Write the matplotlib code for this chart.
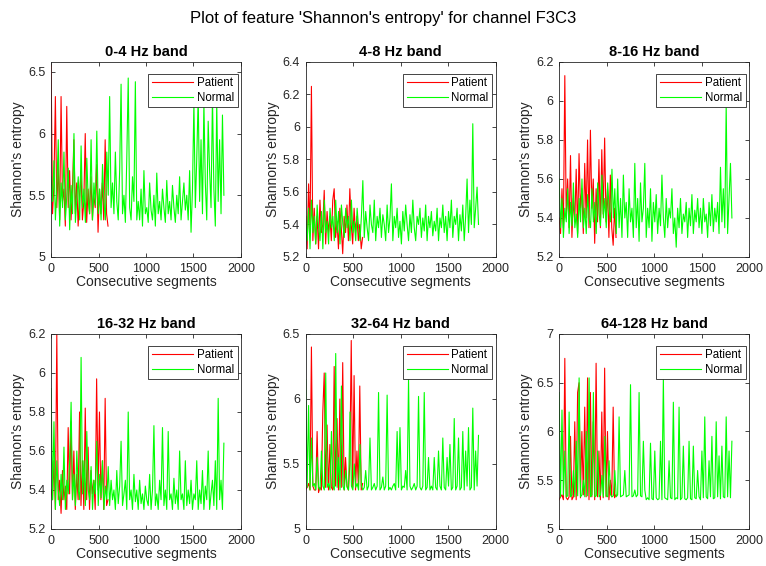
import numpy as np
import matplotlib
matplotlib.use('Agg')
import matplotlib.pyplot as plt
from matplotlib.ticker import FuncFormatter

plt.rcParams['font.family'] = ['Liberation Sans', 'DejaVu Sans']

# Shannon's entropy per consecutive segment, channel F3C3
bands = ['0-4 Hz band', '4-8 Hz band', '8-16 Hz band',
         '16-32 Hz band', '32-64 Hz band', '64-128 Hz band']
n_patient = 600
n_normal = 1820

patient_0_4 = [6.55, 5.35, 5.60, 6.30, 5.40, 5.75, 5.30, 6.30, 5.45, 5.55, 5.25, 6.22, 5.40, 5.70,
               5.30, 5.55, 5.95, 5.35, 5.60, 5.25, 5.50, 5.70, 5.30, 5.45, 6.00, 5.28, 5.55, 5.35,
               5.65, 5.30, 5.50, 5.40, 5.75, 5.20, 5.55, 5.35, 5.60, 5.30, 5.95, 5.35, 5.25]
normal_0_4 = [5.65, 5.45, 5.78, 5.30, 5.55, 5.95, 5.25, 5.60, 5.40, 5.85, 5.30, 5.50, 5.72, 5.22,
              5.58, 5.35, 6.00, 5.28, 5.48, 5.65, 5.30, 5.90, 5.40, 5.55, 5.28, 5.80, 5.45, 5.35,
              5.95, 5.30, 5.60, 5.42, 6.02, 5.35, 5.55, 5.30, 5.75, 5.45, 5.30, 5.85, 5.50,
              6.30, 5.40, 5.60, 5.35, 5.85, 5.45, 5.30, 5.70, 6.40, 5.35, 5.50, 5.28, 5.80, 6.45,
              5.40, 5.30, 5.65, 5.45, 6.42, 5.30,
              5.45, 5.30, 5.55, 5.25, 5.70, 5.35, 5.40, 5.28, 5.60, 5.38, 5.30, 5.50, 5.25, 5.68,
              5.35, 5.45, 5.30, 5.55, 5.40, 5.28, 5.62, 5.35, 5.45, 5.30, 5.58, 5.40, 5.28, 5.50,
              5.35, 5.65, 5.30, 5.45, 5.60, 5.38, 5.50, 5.30, 5.70,
              5.20, 5.55, 6.25, 5.40, 5.80, 6.30, 5.45, 5.95, 5.35, 6.25, 5.60, 5.30, 6.10, 5.70,
              5.40, 6.30, 5.55, 5.25, 6.25, 5.45, 5.95, 5.35, 6.15, 5.50]

patient_4_8 = [5.45, 5.25, 5.65, 5.35, 6.25, 5.30, 5.50, 5.28, 5.45, 5.25, 5.55, 5.35, 5.40, 5.61,
               5.28, 5.48, 5.35, 5.45, 5.30, 5.55, 5.62, 5.32, 5.42, 5.25, 5.50, 5.38, 5.22, 5.45,
               5.35, 5.52, 5.30, 5.62, 5.40, 5.28, 5.50, 5.35, 5.45, 5.30, 5.40, 5.25, 5.32]
normal_4_8 = [5.45, 5.30, 5.50, 5.25, 5.55, 5.35, 5.45, 5.28, 5.52, 5.38, 5.30, 5.48, 5.25, 5.55,
              5.35, 5.42, 5.28, 5.50, 5.38, 5.45, 5.30, 5.55, 5.35, 5.48, 5.28, 5.52, 5.40, 5.32,
              5.50, 5.38, 5.45, 5.30, 5.55, 5.35, 5.42, 5.30, 5.50, 5.38, 5.30, 5.45, 5.67,
              5.32, 5.48, 5.38, 5.30, 5.52, 5.40, 5.35, 5.55, 5.30, 5.45, 5.38, 5.50, 5.32, 5.46,
              5.40, 5.30, 5.52, 5.35, 5.44, 5.65,
              5.30, 5.45, 5.38, 5.50, 5.32, 5.42, 5.28, 5.48, 5.36, 5.52, 5.40, 5.30, 5.46, 5.35,
              5.55, 5.38, 5.30, 5.45, 5.40, 5.50, 5.32, 5.44, 5.36, 5.52, 5.30, 5.45, 5.38, 5.48,
              5.33, 5.42, 5.36, 5.50, 5.30, 5.44, 5.38, 5.52, 5.35,
              5.45, 5.30, 5.48, 5.38, 5.55, 5.32, 5.45, 5.40, 5.50, 5.30, 5.46, 5.36, 5.52, 5.30,
              5.45, 5.68, 5.35, 5.55, 5.40, 6.02, 5.38, 5.50, 5.63, 5.40]

patient_8_16 = [5.40, 5.32, 5.55, 5.35, 6.13, 5.40, 5.60, 5.35, 5.72, 5.30, 5.50, 5.38, 5.65, 5.32,
                5.73, 5.45, 5.55, 5.32, 5.68, 5.40, 5.80, 5.35, 5.85, 5.45, 5.60, 5.27, 5.55, 5.38,
                5.70, 5.35, 5.75, 5.42, 5.81, 5.38, 5.55, 5.30, 5.62, 5.35, 5.26, 5.45, 5.30]
normal_8_16 = [5.60, 5.35, 5.50, 5.30, 5.45, 5.38, 5.55, 5.32, 5.48, 5.36, 5.58, 5.35, 5.42, 5.30,
               5.50, 5.38, 5.60, 5.35, 5.45, 5.32, 5.52, 5.40, 5.35, 5.55, 5.38, 5.48, 5.32, 5.58,
               5.42, 5.36, 5.62, 5.40, 5.50, 5.35, 5.58, 5.45, 5.38, 5.65, 5.40, 5.55, 5.32,
               5.60, 5.35, 5.50, 5.30, 5.62, 5.40, 5.48, 5.30, 5.55, 5.38, 5.45, 5.30, 5.68, 5.35,
               5.50, 5.28, 5.58, 5.38, 5.45, 5.68,
               5.30, 5.45, 5.35, 5.55, 5.28, 5.48, 5.38, 5.52, 5.32, 5.45, 5.36, 5.62, 5.40, 5.30,
               5.50, 5.35, 5.45, 5.40, 5.55, 5.32, 5.40, 5.25, 5.45, 5.35, 5.50, 5.32, 5.42, 5.38,
               5.48, 5.30, 5.45, 5.36, 5.52, 5.32, 5.44, 5.38, 5.50,
               5.35, 5.45, 5.32, 5.50, 5.38, 5.42, 5.30, 5.48, 5.36, 5.52, 5.33, 5.45, 5.38, 5.48,
               5.32, 5.66, 5.38, 5.55, 5.35, 5.98, 5.32, 5.50, 5.68, 5.40]

patient_16_32 = [5.40, 5.35, 5.55, 5.30, 6.20, 5.35, 5.45, 5.28, 5.50, 5.35, 5.42, 5.30, 5.72, 5.38,
                 5.75, 5.35, 5.60, 5.30, 5.48, 5.35, 5.80, 5.32, 5.55, 5.30, 5.82, 5.35, 5.62, 5.30,
                 5.50, 5.38, 5.45, 5.30, 5.97, 5.40, 5.80, 5.35, 5.55, 5.30, 5.87, 5.32, 5.35]
normal_16_32 = [5.92, 5.35, 5.75, 5.30, 5.55, 5.40, 5.32, 5.48, 5.35, 5.62, 5.30, 5.45, 5.38, 5.55,
                5.85, 5.35, 5.48, 5.32, 5.60, 5.40, 5.35, 6.08, 5.38, 5.55, 5.32, 5.70, 5.40, 5.35,
                5.52, 5.30, 5.45, 5.38, 5.65, 5.32, 5.48, 5.36, 5.55, 5.30, 5.42, 5.35, 5.52,
                5.32, 5.45, 5.35, 5.40, 5.30, 5.50, 5.33, 5.42, 5.65, 5.32, 5.38, 5.45, 5.30, 5.80,
                5.35, 5.40, 5.30, 5.48, 5.34, 5.40,
                5.30, 5.45, 5.33, 5.38, 5.30, 5.42, 5.35, 5.32, 5.48, 5.30, 5.40, 5.73, 5.32, 5.38,
                5.30, 5.45, 5.35, 5.72, 5.32, 5.40, 5.30, 5.70, 5.35, 5.38, 5.30, 5.46, 5.33, 5.40,
                5.30, 5.60, 5.35, 5.38, 5.30, 5.55, 5.32, 5.40, 5.33,
                5.45, 5.30, 5.38, 5.35, 5.55, 5.30, 5.40, 5.33, 5.50, 5.30, 5.42, 5.35, 5.60, 5.30,
                5.38, 5.45, 5.32, 5.55, 5.30, 5.87, 5.35, 5.45, 5.30, 5.64]

patient_32_64 = [5.30, 5.32, 5.35, 5.30, 6.40, 5.33, 5.30, 5.30, 5.75, 5.28, 5.32, 5.30, 5.90, 6.20,
                 5.32, 5.80, 5.30, 5.65, 5.32, 5.30, 6.25, 5.33, 5.85, 5.30, 6.00, 5.32, 6.28, 5.30,
                 5.55, 5.33, 5.30, 5.50, 6.45, 5.32, 6.18, 5.30, 5.60, 5.33, 6.10, 5.30, 5.35]
normal_32_64 = [6.15, 5.32, 5.95, 5.30, 5.70, 5.33, 5.35, 5.30, 5.55, 5.32, 5.30, 5.60, 5.33, 5.30,
                6.20, 5.32, 5.35, 5.30, 5.75, 5.33, 5.30, 6.35, 5.32, 5.55, 5.30, 6.10, 5.33, 5.30,
                5.45, 5.32, 5.30, 5.90, 5.33, 5.30, 5.50, 5.32, 5.35, 5.30, 5.65, 5.33, 5.30,
                5.32, 5.45, 5.30, 5.33, 5.70, 5.30, 5.32, 5.35, 5.30, 5.33, 6.05, 5.30, 5.32, 5.40,
                5.30, 5.33, 6.03, 5.30, 5.32, 5.30,
                5.33, 5.35, 5.30, 5.75, 5.32, 5.78, 5.30, 5.33, 5.32, 5.45, 5.30, 6.15, 5.33, 5.30,
                5.32, 5.35, 5.30, 5.33, 6.02, 5.32, 5.30, 5.33, 6.05, 5.30, 5.32, 5.55, 5.30, 5.33,
                5.30, 5.55, 5.32, 5.30, 5.60, 5.33, 5.30, 5.70, 5.32,
                5.30, 5.55, 5.33, 5.65, 5.30, 5.32, 5.85, 5.30, 5.33, 5.70, 5.30, 5.32, 5.75, 5.30,
                5.60, 5.33, 5.78, 5.30, 5.32, 5.93, 5.30, 5.60, 5.33, 5.72]

patient_64_128 = [5.30, 5.33, 5.35, 5.30, 6.75, 5.32, 5.30, 5.33, 5.95, 5.30, 5.33, 6.10, 5.30, 6.40,
                  6.50, 5.32, 6.00, 5.35, 6.25, 5.33, 6.55, 5.30, 6.40, 5.33, 6.10, 5.30, 6.70, 5.33,
                  5.80, 5.30, 6.20, 5.32, 6.65, 5.33, 6.00, 5.30, 5.50, 5.33, 6.25, 5.32, 5.35]
normal_64_128 = [6.40, 5.33, 6.22, 5.35, 5.80, 5.33, 5.34, 6.20, 5.33, 5.35, 5.60, 5.33, 5.90, 5.34,
                 6.55, 5.33, 5.35, 5.50, 5.33, 6.00, 5.34, 6.55, 5.33, 5.35, 6.40, 5.33, 5.34, 5.80,
                 5.33, 5.35, 5.55, 5.33, 5.95, 5.34, 5.33, 5.70, 5.35, 5.33, 5.34, 5.60, 5.33,
                 5.35, 6.15, 5.33, 5.34, 5.35, 5.60, 5.33, 5.34, 5.35, 6.48, 5.33, 5.34, 5.40, 5.33,
                 5.35, 6.40, 5.34, 5.33, 5.90, 5.40,
                 5.30, 5.32, 5.30, 5.88, 5.31, 5.30, 5.80, 5.32, 5.30, 5.31, 5.90, 5.30, 6.55, 5.32,
                 5.31, 5.30, 5.70, 5.32, 5.31, 6.30, 5.30, 5.32, 5.31, 6.25, 5.30, 5.32, 5.85, 5.31,
                 5.30, 5.32, 5.90, 5.31, 5.30, 5.85, 5.32, 5.31, 5.60,
                 5.33, 5.30, 5.80, 5.32, 6.15, 5.33, 5.31, 5.70, 5.33, 5.95, 5.31, 5.32, 6.10, 5.33,
                 5.75, 5.31, 5.85, 5.33, 5.32, 6.15, 5.33, 5.80, 5.32, 5.90]

patient = [patient_0_4, patient_4_8, patient_8_16, patient_16_32, patient_32_64, patient_64_128]
normal = [normal_0_4, normal_4_8, normal_8_16, normal_16_32, normal_32_64, normal_64_128]
ylims = [(5, 6.58), (5.2, 6.4), (5.2, 6.2), (5.2, 6.2), (5, 6.5), (5, 7)]
ysteps = [0.5, 0.2, 0.2, 0.2, 0.5, 0.5]

fig = plt.figure(figsize=(7.66, 5.66), dpi=100)
fig.suptitle("Plot of feature 'Shannon's entropy' for channel F3C3", fontsize=12, y=0.98)

lefts = [0.0666, 0.399, 0.7298]
bottoms = [0.546, 0.0654]
axis_col = '#262626'
fmt = FuncFormatter(lambda v, _: '%g' % round(v, 2))

for k in range(6):
    ax = fig.add_axes([lefts[k % 3], bottoms[k // 3], 0.248, 0.3445])
    xp = np.linspace(1, n_patient, len(patient[k]))
    xn = np.linspace(1, n_normal, len(normal[k]))
    ax.plot(xp, patient[k], color='red', lw=0.8, label='Patient')
    ax.plot(xn, normal[k], color='#00ff00', lw=0.8, label='Normal')
    ax.set_xlim(0, 2000)
    ax.set_ylim(*ylims[k])
    ax.set_xticks(np.arange(0, 2001, 500))
    ax.set_yticks(np.arange(ylims[k][0], ylims[k][1] + 1e-6, ysteps[k]))
    ax.yaxis.set_major_formatter(fmt)
    ax.set_title(bands[k], fontsize=10.5, fontweight='bold', pad=4)
    ax.set_xlabel('Consecutive segments', fontsize=10, labelpad=0, color=axis_col)
    ax.set_ylabel("Shannon's entropy", fontsize=10, labelpad=2, color=axis_col)
    ax.tick_params(direction='in', top=True, right=True, labelsize=9, pad=4,
                   length=3, width=0.6, colors=axis_col)
    for s in ax.spines.values():
        s.set_color(axis_col)
        s.set_linewidth(0.6)
    leg = ax.legend(loc='upper right', bbox_to_anchor=(0.982, 0.94), borderaxespad=0,
                    fontsize=8.3, fancybox=False, framealpha=1, edgecolor=axis_col,
                    handlelength=3.6, borderpad=0.3, labelspacing=0.25, handletextpad=0.3)
    leg.get_frame().set_linewidth(0.6)

fig.savefig('out.png', dpi=100)
